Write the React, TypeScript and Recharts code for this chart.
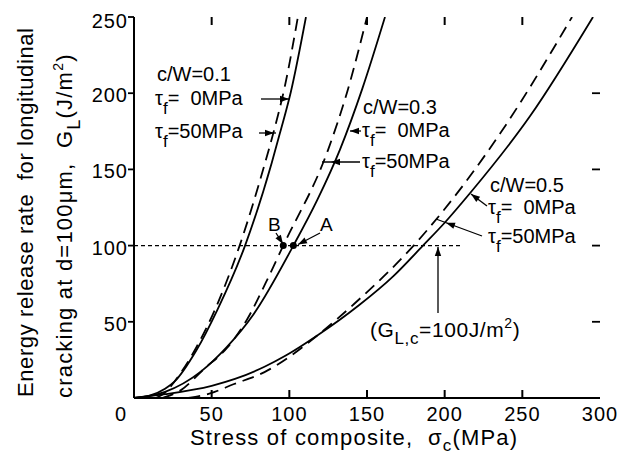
import React from "react";
import { LineChart, Line, XAxis, YAxis, ReferenceLine, ReferenceDot } from "recharts";

// stress of composite sigma_c (MPa) -> energy release rate G_L (J/m^2)
const solid01 = [
  { s: 0, g: 0 }, { s: 10, g: 1.5 }, { s: 20, g: 6 }, { s: 26, g: 10.7 }, { s: 40, g: 31 },
  { s: 53.6, g: 57.7 }, { s: 71.5, g: 100 }, { s: 88.6, g: 154 }, { s: 94, g: 174 },
  { s: 101, g: 201 }, { s: 110.7, g: 250 },
];
const dashed01 = [
  { s: 14, g: 0 }, { s: 20, g: 3.5 }, { s: 26, g: 10.7 }, { s: 40, g: 33 }, { s: 52, g: 57.7 },
  { s: 68, g: 100 }, { s: 84, g: 153 }, { s: 90, g: 175 }, { s: 97, g: 204 }, { s: 105.5, g: 250 },
];
const solid03 = [
  { s: 0, g: 0 }, { s: 20, g: 4 }, { s: 43, g: 17.3 }, { s: 60, g: 33.7 }, { s: 77, g: 55 },
  { s: 102.6, g: 100 }, { s: 118, g: 130 }, { s: 132.6, g: 163 }, { s: 147, g: 203 },
  { s: 161.6, g: 250 },
];
const dashed03 = [
  { s: 18, g: 0 }, { s: 30, g: 5 }, { s: 45, g: 19 }, { s: 60, g: 33 }, { s: 72.5, g: 51 },
  { s: 85, g: 76 }, { s: 96.1, g: 100 }, { s: 125, g: 163 }, { s: 137, g: 200 }, { s: 150, g: 250 },
];
const solid05 = [
  { s: 0, g: 0 }, { s: 20, g: 2.5 }, { s: 50, g: 8 }, { s: 65, g: 12.5 }, { s: 84, g: 20.5 },
  { s: 98, g: 28 }, { s: 118, g: 41 }, { s: 145, g: 61 }, { s: 167, g: 80 }, { s: 186, g: 100 },
  { s: 200, g: 115 }, { s: 216, g: 134 }, { s: 255, g: 185 }, { s: 295.5, g: 250 },
];
const dashed05 = [
  { s: 35, g: 0 }, { s: 49, g: 3 }, { s: 64, g: 9 }, { s: 84, g: 17 }, { s: 100, g: 27 },
  { s: 118, g: 41 }, { s: 142, g: 62 }, { s: 180, g: 100 }, { s: 200, g: 124 }, { s: 236, g: 174 },
  { s: 282, g: 250 },
];

const xTicks = [0, 50, 100, 150, 200, 250, 300];
const yTicks = [50, 100, 150, 200, 250];
const innerXTicks = [50, 100, 150, 200, 250];
const xMax = 300;
const yMax = 250;
const criticalG = 100;
const criticalLineEnd = 210;
const pointA = { s: 102.6, g: 100 };
const pointB = { s: 96.1, g: 100 };

const FONT = "'Liberation Sans', Arial, Helvetica, sans-serif";
const W = 621;
const H = 455;
const M = { top: 9, right: 29, bottom: 0, left: 0 };
const Y_AXIS_W = 126;
const X_AXIS_H = 65;
const PLOT_LEFT = M.left + Y_AXIS_W;
const PLOT_RIGHT = W - M.right;
const PLOT_TOP = M.top;
const PLOT_BOTTOM = H - M.bottom - X_AXIS_H;
const IN_TICK = 8;
const sx = (v: number) => PLOT_LEFT + (v / xMax) * (PLOT_RIGHT - PLOT_LEFT);

const XTick = (p: any) => {
  const v = p.payload.value;
  return (
    <text x={p.x + (v === 0 ? -13 : 0)} y={p.y + 23} textAnchor="middle" fontFamily={FONT}
      fontSize={20} letterSpacing={1} fill="#000">{v}</text>
  );
};

// left labels, plus the inward ticks on the right edge of the frame
const YTick = (p: any) => {
  const v = p.payload.value;
  return (
    <g>
      {v !== yTicks[yTicks.length - 1] && (
        <line x1={PLOT_RIGHT} y1={p.y} x2={PLOT_RIGHT - IN_TICK} y2={p.y} stroke="#000" strokeWidth={1.8} />
      )}
      <text x={p.x} y={p.y + (v === 250 ? 11 : 9)} textAnchor="end" fontFamily={FONT}
        fontSize={20} letterSpacing={1} fill="#000">{v}</text>
    </g>
  );
};

function head(fx: number, fy: number, tx: number, ty: number, len = 9, w = 3.2) {
  const dx = tx - fx, dy = ty - fy;
  const d = Math.hypot(dx, dy);
  const ux = dx / d, uy = dy / d;
  const bx = tx - ux * len, by = ty - uy * len;
  return `${tx},${ty} ${bx - uy * w},${by + ux * w} ${bx + uy * w},${by - ux * w}`;
}

// line from (x1,y1) to (x2,y2), arrowhead tip at (tx,ty) on that line
function Arrow({ x1, y1, x2, y2, tx, ty }: { x1: number; y1: number; x2: number; y2: number; tx?: number; ty?: number }) {
  const px = tx ?? x2, py = ty ?? y2;
  return (
    <g>
      <line x1={x1} y1={y1} x2={x2} y2={y2} stroke="#000" strokeWidth={1.3} />
      <polygon points={head(x1, y1, px, py)} fill="#000" />
    </g>
  );
}

const Tau = ({ x, y, val }: { x: number; y: number; val: string }) => (
  <text x={x} y={y} fontSize={20}>
    τ<tspan fontSize={17} dy={9}>f</tspan><tspan dy={-9}>{val}</tspan>
  </text>
);

const axisStroke = { stroke: "#000", strokeWidth: 2 };
const tickStroke = { stroke: "#000", strokeWidth: 1.8 };

export default function App() {
  const solid = { stroke: "#000", strokeWidth: 1.8, dot: false, isAnimationActive: false, type: "monotone" as const, xAxisId: "b", yAxisId: "l", dataKey: "g" };
  const dashed = { ...solid, strokeDasharray: "12 7" };
  return (
    <div style={{ position: "relative", width: W, height: H, background: "#fff" }}>
      <LineChart width={W} height={H} margin={M}>
        <XAxis xAxisId="b" type="number" dataKey="s" domain={[0, xMax]} ticks={xTicks} interval={0}
          height={X_AXIS_H} tickSize={0} tickMargin={0} tickLine={false} tick={XTick} axisLine={axisStroke} allowDataOverflow />
        <XAxis xAxisId="t" type="number" orientation="top" domain={[0, xMax]} height={0}
          tick={false} tickLine={false} axisLine={axisStroke} allowDataOverflow />
        <YAxis yAxisId="l" type="number" domain={[0, yMax]} ticks={yTicks} interval={0} width={Y_AXIS_W}
          tickSize={6} tickMargin={0} tick={YTick} axisLine={axisStroke} tickLine={tickStroke} allowDataOverflow />
        <YAxis yAxisId="r" orientation="right" type="number" domain={[0, yMax]} width={0}
          tick={false} tickLine={false} axisLine={axisStroke} allowDataOverflow />
        <ReferenceLine xAxisId="b" yAxisId="l" segment={[{ x: 0, y: criticalG }, { x: criticalLineEnd, y: criticalG }]}
          stroke="#000" strokeWidth={1.3} strokeDasharray="4 3" />
        <Line data={dashed01} {...dashed} />
        <Line data={solid01} {...solid} />
        <Line data={dashed03} {...dashed} />
        <Line data={solid03} {...solid} />
        <Line data={dashed05} {...dashed} />
        <Line data={solid05} {...solid} />
        <ReferenceDot xAxisId="b" yAxisId="l" x={pointA.s} y={pointA.g} r={3.5} fill="#000" stroke="none" />
        <ReferenceDot xAxisId="b" yAxisId="l" x={pointB.s} y={pointB.g} r={3.5} fill="#000" stroke="none" />
      </LineChart>
      <svg width={W} height={H} style={{ position: "absolute", left: 0, top: 0, pointerEvents: "none" }}>
        {/* inward ticks on the top and bottom edges of the frame */}
        {innerXTicks.map((v) => (
          <g key={v} stroke="#000" strokeWidth={2}>
            <line x1={sx(v)} y1={PLOT_BOTTOM} x2={sx(v)} y2={PLOT_BOTTOM - IN_TICK} />
            <line x1={sx(v)} y1={PLOT_TOP} x2={sx(v)} y2={PLOT_TOP + IN_TICK} />
          </g>
        ))}
        <g transform="translate(-8,-8)" fontFamily={FONT} fill="#000">
          <text x={157} y={81} fontSize={20}>c/W=0.1</text>
          <Tau x={155} y={105} val={"=\u00A0\u00A00MPa"} />
          <Arrow x1={261} y1={99} x2={289} y2={99} />
          <Tau x={155} y={138} val="=50MPa" />
          <Arrow x1={259} y1={133} x2={276} y2={133} tx={274} ty={133} />

          <text x={363} y={114} fontSize={20}>c/W=0.3</text>
          <Tau x={362} y={137} val={"=\u00A0\u00A00MPa"} />
          <Arrow x1={361} y1={131} x2={350} y2={131} />
          <Tau x={362} y={168} val="=50MPa" />
          <Arrow x1={360} y1={162} x2={322} y2={162} tx={331} ty={162} />

          <text x={490} y={192} fontSize={20}>c/W=0.5</text>
          <Tau x={488} y={214} val={"=\u00A0\u00A00MPa"} />
          <Arrow x1={487} y1={206} x2={471} y2={194} />
          <Tau x={488} y={243} val="=50MPa" />
          <Arrow x1={482} y1={236} x2={436} y2={219} tx={446} ty={222.7} />

          <text x={370} y={337} fontSize={21} letterSpacing={0.6}>
            (G<tspan fontSize={17} dy={7}>L,c</tspan><tspan dy={-7}>=100J/m</tspan>
            <tspan fontSize={14} dy={-9}>2</tspan><tspan dy={9}>)</tspan>
          </text>
          <Arrow x1={438} y1={313} x2={438} y2={247} />

          <text x={268} y={231} fontSize={19}>B</text>
          <Arrow x1={276} y1={233} x2={283} y2={244} />
          <text x={320} y={231} fontSize={19}>A</text>
          <Arrow x1={320} y1={233} x2={298} y2={244.5} />

          <text x={190} y={445} fontSize={22} letterSpacing={1.2}>
            Stress of composite,{"\u00A0\u00A0"}σ<tspan fontSize={17} dy={6}>c</tspan><tspan dy={-6}>(MPa)</tspan>
          </text>
          <text x={33} y={397} fontSize={22} letterSpacing={0.6} transform="rotate(-90,33,397)">
            Energy release rate{"\u00A0\u00A0"}for longitudinal
          </text>
          <text x={72} y={398} fontSize={22} letterSpacing={1.2} transform="rotate(-90,72,398)">
            cracking at d=100μm,{"\u00A0\u00A0"}G<tspan fontSize={18} dy={8}>L</tspan><tspan dy={-8}>(J/m</tspan>
            <tspan fontSize={14} dy={-9}>2</tspan><tspan dy={9}>)</tspan>
          </text>
        </g>
      </svg>
    </div>
  );
}
